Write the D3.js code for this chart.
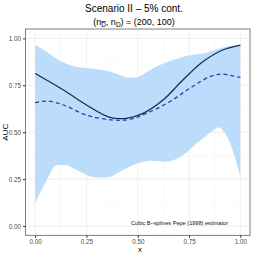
<!DOCTYPE html>
<html><head><meta charset="utf-8">
<script src="https://cdn.jsdelivr.net/npm/d3@7"></script>
<style>body{margin:0;background:#fff}svg{display:block}</style>
</head><body><svg id="c" width="254" height="254"></svg>
<script>
const bandX     = [0, 0.057, 0.105, 0.146, 0.2, 0.251, 0.3, 0.35, 0.413, 0.45, 0.49, 0.51, 0.558, 0.607, 0.639, 0.712, 0.736, 0.785, 0.833, 0.85, 0.898, 0.914, 0.947, 1];
const bandUpper = [0.964, 0.929, 0.89, 0.867, 0.849, 0.842, 0.835, 0.827, 0.805, 0.792, 0.792, 0.80, 0.83, 0.858, 0.872, 0.898, 0.906, 0.914, 0.923, 0.93, 0.946, 0.952, 0.958, 0.964];
const bandLower = [0.121, 0.245, 0.325, 0.325, 0.30, 0.272, 0.259, 0.259, 0.289, 0.31, 0.33, 0.337, 0.348, 0.345, 0.343, 0.372, 0.39, 0.44, 0.48, 0.494, 0.526, 0.51, 0.449, 0.263];
const lineX     = [0, 0.138, 0.25, 0.364, 0.445, 0.526, 0.623, 0.72, 0.817, 0.914, 1];
const pepeAUC   = [0.813, 0.725, 0.645, 0.579, 0.574, 0.6, 0.671, 0.778, 0.875, 0.938, 0.964];
const dashX     = [0, 0.057, 0.138, 0.25, 0.38, 0.461, 0.542, 0.655, 0.752, 0.85, 0.906, 0.963, 1];
const splineAUC = [0.657, 0.666, 0.645, 0.591, 0.565, 0.568, 0.6, 0.662, 0.733, 0.795, 0.81, 0.80, 0.792];
const xTicks = [0, 0.25, 0.5, 0.75, 1];
const yTicks = [0, 0.25, 0.5, 0.75, 1];

const svg = d3.select("#c");
const L = 25.5, R = 250, T = 29, B = 235.4;
const x = d3.scaleLinear().domain([-0.047, 1.047]).range([L, R]);
const y = d3.scaleLinear().domain([-0.05, 1.05]).range([B, T]);

// grid
const g = svg.append("g");
const minorX = d3.range(4).map(i => 0.125 + 0.25 * i);
const minorY = minorX;
g.selectAll(".mx").data(minorX).join("line").attr("x1", d => x(d)).attr("x2", d => x(d)).attr("y1", T).attr("y2", B).attr("stroke", "#F3F3F3").attr("stroke-width", 0.5);
g.selectAll(".my").data(minorY).join("line").attr("y1", d => y(d)).attr("y2", d => y(d)).attr("x1", L).attr("x2", R).attr("stroke", "#F3F3F3").attr("stroke-width", 0.5);
g.selectAll(".gx").data(xTicks).join("line").attr("x1", d => x(d)).attr("x2", d => x(d)).attr("y1", T).attr("y2", B).attr("stroke", "#EBEBEB").attr("stroke-width", 0.8);
g.selectAll(".gy").data(yTicks).join("line").attr("y1", d => y(d)).attr("y2", d => y(d)).attr("x1", L).attr("x2", R).attr("stroke", "#EBEBEB").attr("stroke-width", 0.8);

// ribbon
const band = bandX.map((d, i) => ({x: d, lo: bandLower[i], hi: bandUpper[i]}));
svg.append("path").datum(band)
  .attr("d", d3.area().x(d => x(d.x)).y0(d => y(d.lo)).y1(d => y(d.hi)).curve(d3.curveMonotoneX))
  .attr("fill", "#BBDDFB");

const ln = d3.line().curve(d3.curveCatmullRom);
svg.append("path").attr("d", ln(lineX.map((d, i) => [x(d), y(pepeAUC[i])])))
  .attr("fill", "none").attr("stroke", "#1C2B4B").attr("stroke-width", 1.3);
svg.append("path").attr("d", ln(dashX.map((d, i) => [x(d), y(splineAUC[i])])))
  .attr("fill", "none").attr("stroke", "#2A3FA6").attr("stroke-width", 1.3).attr("stroke-dasharray", "4,3");

// border
svg.append("rect").attr("x", L).attr("y", T).attr("width", R - L).attr("height", B - T)
  .attr("fill", "none").attr("stroke", "#7F7F7F").attr("stroke-width", 1);

// axes
const ax = svg.append("g").attr("transform", `translate(0,${B})`)
  .call(d3.axisBottom(x).tickValues(xTicks).tickFormat(d3.format(".2f")).tickSize(2.5).tickPadding(2));
const ay = svg.append("g").attr("transform", `translate(${L},0)`)
  .call(d3.axisLeft(y).tickValues(yTicks).tickFormat(d3.format(".2f")).tickSize(2.5).tickPadding(2));
[ax, ay].forEach(a => {
  a.select(".domain").remove();
  a.selectAll("line").attr("stroke", "#333");
  a.selectAll("text").attr("fill", "#4D4D4D").style("font-family", "Liberation Sans, Arial, sans-serif").style("font-size", "6.3px");
});

svg.append("text").attr("x", 140).attr("y", 252).attr("text-anchor", "middle")
  .style("font-family", "Liberation Sans, Arial, sans-serif").style("font-size", "8px").text("x");
svg.append("text").attr("transform", `translate(8,${(T + B) / 2}) rotate(-90)`).attr("text-anchor", "middle")
  .style("font-family", "Liberation Sans, Arial, sans-serif").style("font-size", "8px").text("AUC");

svg.append("text").attr("x", 228).attr("y", 225).attr("text-anchor", "end")
  .style("font-family", "Liberation Sans, Arial, sans-serif").style("font-size", "5.6px").attr("fill", "#111")
  .text("Cubic B\u2013splines Pepe (1998) estimator");

// title
const tf = "Liberation Sans, Arial, sans-serif";
svg.append("text").attr("x", 134).attr("y", 12).attr("text-anchor", "middle")
  .style("font-family", tf).style("font-size", "10px").text("Scenario II \u2013 5% cont.");
const t2 = svg.append("text").attr("x", 134).attr("y", 25).attr("text-anchor", "middle")
  .style("font-family", tf).style("font-size", "9px");
t2.append("tspan").text("(n");
t2.append("tspan").attr("dy", 2).style("font-size", "6.5px").style("text-decoration", "overline").text("D");
t2.append("tspan").attr("dy", -2).text(", n");
t2.append("tspan").attr("dy", 2).style("font-size", "6.5px").text("D");
t2.append("tspan").attr("dy", -2).text(") = (200, 100)");
</script></body></html>
